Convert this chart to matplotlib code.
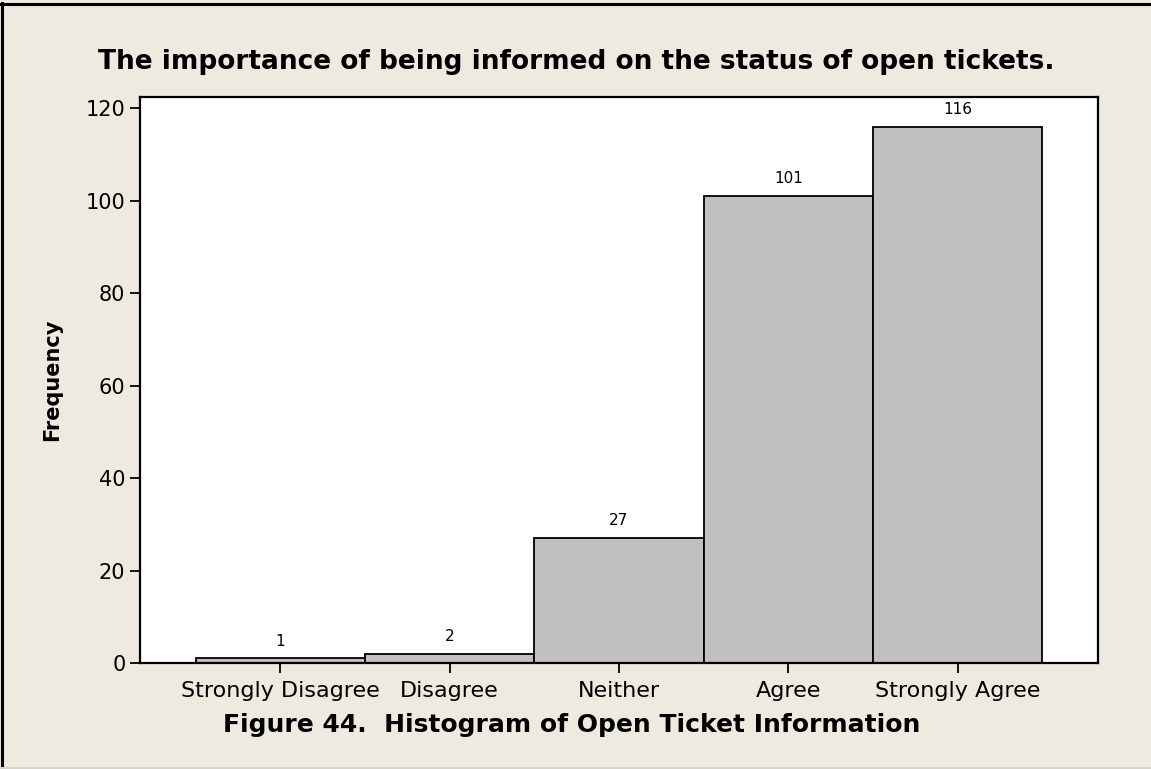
import matplotlib
matplotlib.use("Agg")
import matplotlib.pyplot as plt
from matplotlib.lines import Line2D

categories = ["Strongly Disagree", "Disagree", "Neither", "Agree", "Strongly Agree"]
counts = [1, 2, 27, 101, 116]
yticks = [0, 20, 40, 60, 80, 100, 120]

plt.rcParams['font.family'] = ['DejaVu Sans']

W, H = 1151, 769
fig = plt.figure(figsize=(W/100, H/100), dpi=100)
fig.patch.set_facecolor('#EEEAE0')
# frame lines: black top and left, light grey bottom
fig.lines.append(Line2D([1.5/W, 1.5/W], [0, 1 - 3/H], transform=fig.transFigure, color='black', lw=2.2))
fig.lines.append(Line2D([0, 1], [1 - 3.5/H, 1 - 3.5/H], transform=fig.transFigure, color='black', lw=2.2))
fig.lines.append(Line2D([0, 1], [1.5/H, 1.5/H], transform=fig.transFigure, color='#D8D4CA', lw=1.5))

ax = fig.add_axes([140/W, 1 - 663/H, (1098-140)/W, (663-97)/H])
ax.set_facecolor('white')
x = list(range(len(categories)))
ax.bar(x, counts, width=1.0, color='#C0C0C0', edgecolor='black', linewidth=1.3)
for xi, c in zip(x, counts):
    ax.annotate(str(c), (xi, c), xytext=(0, 7), textcoords='offset points',
                ha='center', va='bottom', fontsize=11)

ax.set_xlim(-0.83, 4.83)
ax.set_ylim(0, 122.4)
ax.set_yticks(yticks)
ax.set_xticks(x)
ax.set_xticklabels(categories)
ax.tick_params(axis='y', direction='out', length=7, width=1.3, labelsize=15)
ax.tick_params(axis='x', direction='out', length=7, width=1.3, labelsize=16, pad=6)
for s in ax.spines.values():
    s.set_linewidth(1.6)

fig.text(52/W, 1 - 380/H, "Frequency", rotation=90, ha='center', va='center',
         fontsize=15, fontweight='bold')
fig.text(572/W, 1 - 732/H, "Figure 44.  Histogram of Open Ticket Information",
         ha='center', va='baseline', fontsize=18, fontweight='bold')
fig.text(576/W, 1 - 69/H, "The importance of being informed on the status of open tickets.",
         ha='center', va='baseline', fontsize=19, fontweight='bold')

fig.savefig("out.png", dpi=100, facecolor=fig.get_facecolor())
